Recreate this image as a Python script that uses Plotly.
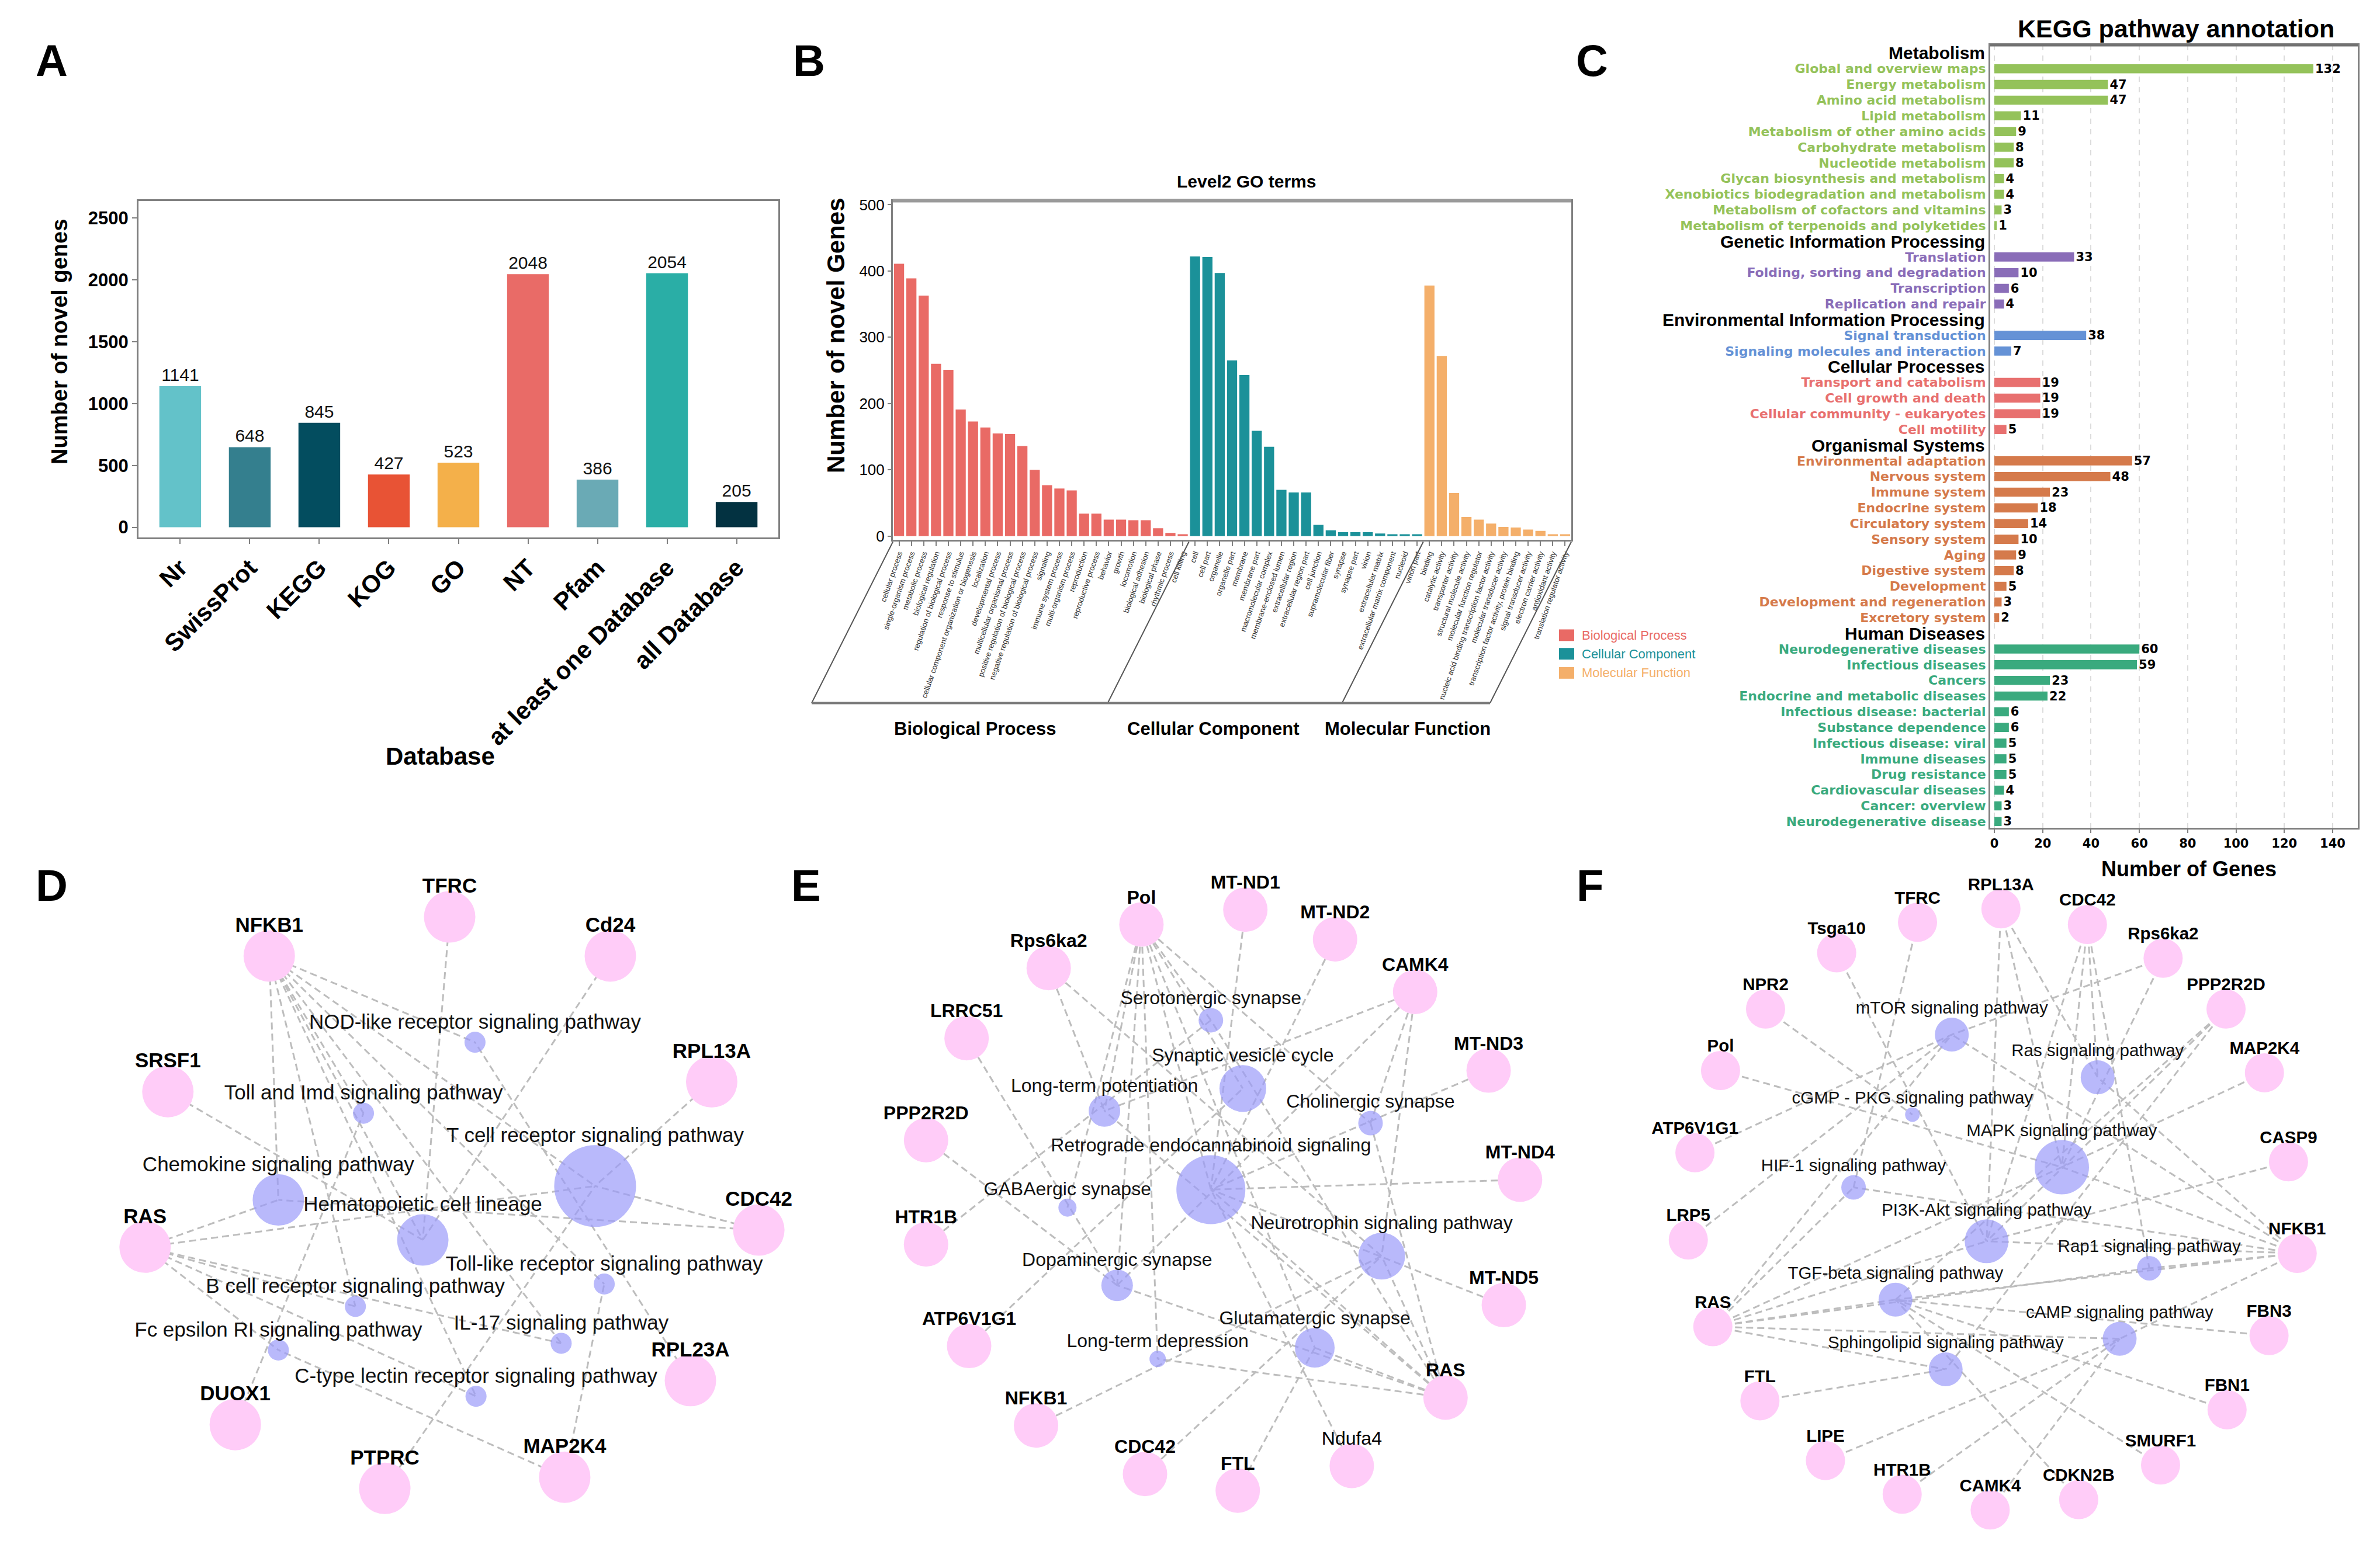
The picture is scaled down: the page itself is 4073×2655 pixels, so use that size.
import plotly.graph_objects as go

W, H = 4073, 2655
def px(x): return x / W
def py(y): return 1 - (0.993 * y - 4) / H
def rawpy(y): return 1 - y / H

ARIAL = "Liberation Sans, Arial, Helvetica, sans-serif"
WIDE = "DejaVu Sans, Verdana, sans-serif"

# ---------------- Panel A: novel genes annotated per database
db_names = ["Nr", "SwissProt", "KEGG", "KOG", "GO", "NT", "Pfam", "at least one Database", "all Database"]
db_values = [1141, 648, 845, 427, 523, 2048, 386, 2054, 205]
db_colors = ["#63C2C9", "#347F8E", "#034D5F", "#E85335", "#F4B04A", "#E96B67", "#6AAAB5", "#2AAEA6", "#033241"]
db_ticks = [0, 500, 1000, 1500, 2000, 2500]

# ---------------- Panel B: Level2 GO terms
bp_terms = ["cellular process", "single-organism process", "metabolic process", "biological regulation",
            "regulation of biological process", "response to stimulus",
            "cellular component organization or biogenesis", "localization", "developmental process",
            "multicellular organismal process", "positive regulation of biological process",
            "negative regulation of biological process", "signaling", "immune system process",
            "multi-organism process", "reproduction", "reproductive process", "behavior", "growth",
            "locomotion", "biological adhesion", "biological phase", "rhythmic process", "cell killing"]
bp_values = [411, 389, 363, 260, 251, 191, 173, 164, 155, 154, 136, 100, 77, 72, 69, 34, 34, 25, 25, 24, 24, 12, 5, 3]
cc_terms = ["cell", "cell part", "organelle", "organelle part", "membrane", "membrane part",
            "macromolecular complex", "membrane-enclosed lumen", "extracellular region",
            "extracellular region part", "cell junction", "supramolecular fiber", "synapse", "synapse part",
            "virion", "extracellular matrix", "extracellular matrix component", "nucleoid", "virion part"]
cc_values = [422, 421, 397, 265, 243, 159, 135, 70, 66, 66, 17, 9, 6, 6, 6, 4, 3, 3, 3]
mf_terms = ["binding", "catalytic activity", "transporter activity", "structural molecule activity",
            "molecular function regulator", "nucleic acid binding transcription factor activity",
            "molecular transducer activity", "transcription factor activity, protein binding",
            "signal transducer activity", "electron carrier activity", "antioxidant activity",
            "translation regulator activity"]
mf_values = [378, 272, 65, 29, 25, 19, 14, 13, 10, 8, 3, 3]
go_groups = ["Biological Process", "Cellular Component", "Molecular Function"]
go_colors = ["#E96A65", "#1B9199", "#F4AF6A"]
go_ticks = [0, 100, 200, 300, 400, 500]

# ---------------- Panel C: KEGG pathway annotation
kegg_groups = ["Metabolism", "Genetic Information Processing", "Environmental Information Processing",
               "Cellular Processes", "Organismal Systems", "Human Diseases"]
kegg_colors = ["#94C25A", "#8A6DB8", "#6592D6", "#E8706F", "#D57A4B", "#3AAA7E"]
metab_terms = ["Global and overview maps", "Energy metabolism", "Amino acid metabolism", "Lipid metabolism",
               "Metabolism of other amino acids", "Carbohydrate metabolism", "Nucleotide metabolism",
               "Glycan biosynthesis and metabolism", "Xenobiotics biodegradation and metabolism",
               "Metabolism of cofactors and vitamins", "Metabolism of terpenoids and polyketides"]
metab_values = [132, 47, 47, 11, 9, 8, 8, 4, 4, 3, 1]
genetic_terms = ["Translation", "Folding, sorting and degradation", "Transcription", "Replication and repair"]
genetic_values = [33, 10, 6, 4]
env_terms = ["Signal transduction", "Signaling molecules and interaction"]
env_values = [38, 7]
cellular_terms = ["Transport and catabolism", "Cell growth and death", "Cellular community - eukaryotes", "Cell motility"]
cellular_values = [19, 19, 19, 5]
organismal_terms = ["Environmental adaptation", "Nervous system", "Immune system", "Endocrine system",
                    "Circulatory system", "Sensory system", "Aging", "Digestive system", "Development",
                    "Development and regeneration", "Excretory system"]
organismal_values = [57, 48, 23, 18, 14, 10, 9, 8, 5, 3, 2]
disease_terms = ["Neurodegenerative diseases", "Infectious diseases", "Cancers", "Endocrine and metabolic diseases",
                 "Infectious disease: bacterial", "Substance dependence", "Infectious disease: viral",
                 "Immune diseases", "Drug resistance", "Cardiovascular diseases", "Cancer: overview",
                 "Neurodegenerative disease"]
disease_values = [60, 59, 23, 22, 6, 6, 5, 5, 5, 4, 3, 3]
kegg_ticks = [0, 20, 40, 60, 80, 100, 120, 140]

# ---------------- Panels D/E/F: gene-pathway networks (layout)
d_genes = ["NFKB1", "TFRC", "Cd24", "SRSF1", "RPL13A", "RAS", "CDC42", "RPL23A", "DUOX1", "PTPRC", "MAP2K4"]
d_gene_x = [522, 878, 1195, 322, 1395, 277, 1488, 1353, 455, 750, 1105]
d_gene_y = [245, 158, 245, 547, 525, 893, 855, 1190, 1288, 1430, 1405]
d_paths = ["NOD-like receptor signaling pathway", "Toll and Imd signaling pathway",
           "T cell receptor signaling pathway", "Chemokine signaling pathway", "Hematopoietic cell lineage",
           "Toll-like receptor signaling pathway", "B cell receptor signaling pathway", "IL-17 signaling pathway",
           "Fc epsilon RI signaling pathway", "C-type lectin receptor signaling pathway"]
d_path_x = [928, 708, 1165, 540, 825, 1183, 692, 1098, 540, 930]
d_path_y = [437, 595, 757, 788, 877, 975, 1025, 1107, 1122, 1225]
d_path_weight = [36, 36, 140, 88, 88, 36, 36, 36, 36, 36]
d_edges = [("NFKB1", 0), ("NFKB1", 1), ("NFKB1", 2), ("NFKB1", 3), ("NFKB1", 4), ("NFKB1", 5),
           ("NFKB1", 6), ("NFKB1", 7), ("NFKB1", 9), ("TFRC", 4), ("Cd24", 4), ("SRSF1", 4),
           ("RPL13A", 2), ("RAS", 3), ("RAS", 2), ("RAS", 6), ("RAS", 8), ("RAS", 7), ("RAS", 9),
           ("CDC42", 2), ("CDC42", 3), ("RPL23A", 0), ("DUOX1", 1), ("PTPRC", 2), ("MAP2K4", 5), ("MAP2K4", 8)]

e_genes = ["Pol", "MT-ND1", "MT-ND2", "Rps6ka2", "CAMK4", "LRRC51", "MT-ND3", "PPP2R2D", "MT-ND4", "HTR1B",
           "MT-ND5", "ATP6V1G1", "RAS", "NFKB1", "Ndufa4", "CDC42", "FTL"]
e_gene_x = [698, 903, 1080, 515, 1238, 353, 1383, 273, 1445, 273, 1413, 358, 1298, 490, 1113, 705, 888]
e_gene_y = [175, 142, 208, 272, 325, 428, 500, 655, 743, 887, 1022, 1113, 1228, 1290, 1380, 1398, 1435]
e_paths = ["Serotonergic synapse", "Synaptic vesicle cycle", "Long-term potentiation", "Cholinergic synapse",
           "Retrograde endocannabinoid signaling", "GABAergic synapse", "Neurotrophin signaling pathway",
           "Dopaminergic synapse", "Glutamatergic synapse", "Long-term depression"]
e_path_x = [835, 898, 625, 1150, 835, 552, 1172, 650, 1040, 730]
e_path_y = [388, 540, 590, 617, 765, 805, 913, 978, 1117, 1142]
e_path_weight = [42, 80, 54, 42, 118, 31, 80, 54, 68, 28]
e_edges = [("Pol", 0), ("Pol", 1), ("Pol", 2), ("Pol", 4), ("Pol", 5), ("Pol", 7), ("Pol", 9), ("Pol", 3), ("Pol", 8),
           ("MT-ND1", 4), ("MT-ND2", 4), ("MT-ND3", 4), ("MT-ND4", 4), ("MT-ND5", 4), ("Ndufa4", 4),
           ("Rps6ka2", 2), ("Rps6ka2", 6), ("CAMK4", 2), ("CAMK4", 3), ("CAMK4", 6), ("CAMK4", 7),
           ("LRRC51", 7), ("PPP2R2D", 7), ("HTR1B", 0), ("ATP6V1G1", 1), ("NFKB1", 6), ("CDC42", 6),
           ("FTL", 8), ("RAS", 6), ("RAS", 8), ("RAS", 9), ("RAS", 2), ("RAS", 3), ("RAS", 4), ("RAS", 0), ("RAS", 7)]

f_genes = ["RPL13A", "TFRC", "CDC42", "Tsga10", "Rps6ka2", "NPR2", "PPP2R2D", "Pol", "MAP2K4", "ATP6V1G1",
           "CASP9", "LRP5", "NFKB1", "RAS", "FBN3", "FTL", "FBN1", "LIPE", "SMURF1", "HTR1B", "CDKN2B", "CAMK4"]
f_gene_x = [818, 655, 987, 497, 1135, 358, 1258, 270, 1333, 220, 1380, 207, 1397, 255, 1342, 347, 1260, 475, 1130, 625, 970, 797]
f_gene_y = [140, 170, 175, 238, 250, 363, 363, 500, 505, 683, 703, 877, 907, 1070, 1090, 1235, 1255, 1368, 1378, 1443, 1455, 1478]
f_paths = ["mTOR signaling pathway", "Ras signaling pathway", "cGMP - PKG signaling pathway", "MAPK signaling pathway",
           "HIF-1 signaling pathway", "PI3K-Akt signaling pathway", "Rap1 signaling pathway",
           "TGF-beta signaling pathway", "cAMP signaling pathway", "Sphingolipid signaling pathway"]
f_path_x = [722, 1007, 645, 937, 530, 790, 1108, 612, 1050, 710]
f_path_y = [420, 515, 598, 715, 760, 880, 940, 1010, 1097, 1165]
f_path_weight = [58, 58, 25, 93, 42, 75, 42, 58, 58, 58]
f_edges = [("RPL13A", 5), ("RPL13A", 3), ("RPL13A", 1), ("TFRC", 4), ("CDC42", 1), ("CDC42", 3), ("CDC42", 6),
           ("CDC42", 5), ("Tsga10", 5), ("Rps6ka2", 0), ("Rps6ka2", 3), ("NPR2", 2), ("PPP2R2D", 5),
           ("PPP2R2D", 9), ("PPP2R2D", 7), ("Pol", 3), ("MAP2K4", 3), ("ATP6V1G1", 0), ("CASP9", 5), ("LRP5", 0),
           ("NFKB1", 0), ("NFKB1", 3), ("NFKB1", 1), ("NFKB1", 5), ("NFKB1", 8), ("NFKB1", 4), ("NFKB1", 7),
           ("NFKB1", 6), ("RAS", 0), ("RAS", 4), ("RAS", 5), ("RAS", 7), ("RAS", 9), ("RAS", 8), ("RAS", 3),
           ("RAS", 6), ("FBN3", 7), ("FTL", 9), ("FBN1", 7), ("LIPE", 8), ("SMURF1", 7), ("HTR1B", 8),
           ("CDKN2B", 7), ("CAMK4", 8)]

fig = go.Figure()
annotations = []
shapes = []

# ================= Panel A =================
fig.add_trace(go.Bar(
    x=db_names, y=db_values, marker=dict(color=db_colors, line=dict(width=0)), width=0.6,
    text=[str(v) for v in db_values], textposition="outside", cliponaxis=False,
    textfont=dict(family=ARIAL, size=30, color="#111"), xaxis="x", yaxis="y", showlegend=False))

# ================= Panel B =================
go_terms = bp_terms + cc_terms + mf_terms
go_pos = list(range(len(go_terms)))
start = 0
for grp, terms, vals, col in zip(go_groups, [bp_terms, cc_terms, mf_terms], [bp_values, cc_values, mf_values], go_colors):
    fig.add_trace(go.Bar(x=go_pos[start:start + len(terms)], y=vals, marker=dict(color=col, line=dict(width=0)),
                         width=0.82, xaxis="x2", yaxis="y2", showlegend=False, name=grp))
    start += len(terms)

# ================= Panel C =================
kegg_sets = [(metab_terms, metab_values), (genetic_terms, genetic_values), (env_terms, env_values),
             (cellular_terms, cellular_values), (organismal_terms, organismal_values), (disease_terms, disease_values)]
slot = 0
c_tickvals, c_ticktext = [], []
for grp, (terms, vals), col in zip(kegg_groups, kegg_sets, kegg_colors):
    annotations.append(dict(text=grp, xref="paper", yref="y3", x=px(3391), y=slot, xanchor="right",
                            yanchor="middle", showarrow=False,
                            font=dict(family=ARIAL, size=30, color="black", weight="bold")))
    ys = list(range(slot + 1, slot + 1 + len(terms)))
    slot += 1 + len(terms)
    c_tickvals += ys
    c_ticktext += ['<span style="color:%s">%s</span>' % (col, t) for t in terms]
    fig.add_trace(go.Bar(x=vals, y=ys, orientation="h", marker=dict(color=col, line=dict(width=0)), width=0.58,
                         text=[str(v) for v in vals], textposition="outside", cliponaxis=False,
                         constraintext="none",
                         textfont=dict(family=WIDE, size=21, color="black", weight="bold"),
                         xaxis="x3", yaxis="y3", showlegend=False))

# ================= Networks =================
def add_network(xa, ya, genes, gx, gy, paths, pxs, pys, pw, edges, gene_px, font_size):
    yscale = 1568 / 1205.0
    ex, ey = [], []
    for g, p in edges:
        i = genes.index(g)
        ex += [gx[i], pxs[p], None]
        ey += [gy[i], pys[p], None]
    fig.add_trace(go.Scatter(x=ex, y=ey, mode="lines", line=dict(color="#BDBDBD", width=3, dash="12px,7px"),
                             hoverinfo="skip", xaxis=xa, yaxis=ya, showlegend=False))
    fig.add_trace(go.Scatter(x=gx, y=gy, mode="markers", marker=dict(size=gene_px, color="#FFCCF8", line=dict(width=0)),
                             xaxis=xa, yaxis=ya, showlegend=False))
    fig.add_trace(go.Scatter(x=pxs, y=pys, mode="markers", marker=dict(size=pw, color="#9B9BFA", line=dict(width=0)),
                             xaxis=xa, yaxis=ya, showlegend=False))
    gtext = [("<b>%s</b>" % g) if g != "Ndufa4" else g for g in genes]
    fig.add_trace(go.Scatter(x=gx, y=[y - (gene_px / 2 + 6) * yscale for y in gy], mode="text", text=gtext,
                             textposition="middle center", cliponaxis=False,
                             textfont=dict(family=ARIAL, size=font_size, color="black"),
                             xaxis=xa, yaxis=ya, showlegend=False))
    fig.add_trace(go.Scatter(x=pxs, y=[y - (w / 2 + 14) * yscale for y, w in zip(pys, pw)], mode="text", text=paths,
                             textposition="middle center", cliponaxis=False,
                             textfont=dict(family=ARIAL, size=font_size, color="#111"),
                             xaxis=xa, yaxis=ya, showlegend=False))

add_network("x4", "y4", d_genes, d_gene_x, d_gene_y, d_paths, d_path_x, d_path_y, d_path_weight, d_edges, 88, 35)
add_network("x5", "y5", e_genes, e_gene_x, e_gene_y, e_paths, e_path_x, e_path_y, e_path_weight, e_edges, 76, 32)
add_network("x6", "y6", f_genes, f_gene_x, f_gene_y, f_paths, f_path_x, f_path_y, f_path_weight, f_edges, 67, 29.5)

# ================= Layout =================
frame = dict(showline=True, mirror=True, linecolor="#808080", linewidth=3, showgrid=False, zeroline=False)
net_x = dict(visible=False, range=[0, 1568], fixedrange=True)
net_y = dict(visible=False, range=[1568, 0], fixedrange=True)
NET_TOP, NET_BOT = 1440, 2645

layout = dict(
    width=W, height=H, margin=dict(l=0, r=0, t=0, b=0), paper_bgcolor="white", plot_bgcolor="rgba(0,0,0,0)",
    font=dict(family=ARIAL, color="black"), barmode="overlay",
    xaxis=dict(domain=[px(229), px(1324)], anchor="y", type="category", range=[-0.6, 8.6], tickangle=-45,
               tickfont=dict(family=ARIAL, size=42, weight="bold"), ticks="outside", ticklen=8, tickwidth=2,
               tickcolor="#808080", automargin=False, **frame),
    yaxis=dict(domain=[py(922), py(342)], anchor="x", range=[-80, 2641], tickvals=db_ticks,
               tickfont=dict(family=ARIAL, size=31, weight="bold"), ticks="outside", ticklen=8, tickwidth=2,
               tickcolor="#808080", automargin=False, **frame),
    xaxis2=dict(domain=[px(1520), px(2681)], anchor="y2", range=[-0.5, len(go_terms) - 0.5], tickmode="array",
                tickvals=go_pos, ticktext=go_terms, tickangle=-71,
                tickfont=dict(family=ARIAL, size=13, color="#333"), ticks="outside", ticklen=8, tickwidth=1.5,
                tickcolor="#808080", automargin=False, **frame),
    yaxis2=dict(domain=[py(926), py(342)], anchor="x2", range=[-5, 506], tickvals=go_ticks,
                tickfont=dict(family=ARIAL, size=26), ticks="outside", ticklen=6, tickwidth=2,
                tickcolor="#808080", automargin=False, **frame),
    xaxis3=dict(domain=[px(3398), px(4027)], anchor="y3", range=[-1.7, 150.4], tickvals=kegg_ticks,
                tickfont=dict(family=WIDE, size=21, weight="bold"), ticks="outside", ticklen=6, tickwidth=2,
                tickcolor="#808080", showline=True, mirror=True, linecolor="#808080", linewidth=3,
                showgrid=True, gridcolor="#DCDCDC", gridwidth=2, griddash="dash", zeroline=False, automargin=False),
    yaxis3=dict(domain=[py(1423), py(74)], anchor="x3", range=[49.4, -0.5], tickmode="array",
                tickvals=c_tickvals, ticktext=c_ticktext, ticks="", showgrid=False, zeroline=False,
                tickfont=dict(family=WIDE, size=22, weight="bold"), showline=True, mirror=True,
                linecolor="#808080", linewidth=3, automargin=False),
    xaxis4=dict(domain=[0, px(1360)], anchor="y4", **net_x),
    yaxis4=dict(domain=[rawpy(2646), rawpy(1440)], anchor="x4", **net_y),
    xaxis5=dict(domain=[px(1340), px(2700)], anchor="y5", **net_x),
    yaxis5=dict(domain=[rawpy(2646), rawpy(1440)], anchor="x5", **net_y),
    xaxis6=dict(domain=[px(2700), px(4073)], anchor="y6", **net_x),
    yaxis6=dict(domain=[rawpy(2646), rawpy(1440)], anchor="x6", **net_y),
)

def txt(s, x, y, size, bold=True, color="black", xanchor="center", angle=0, family=ARIAL):
    annotations.append(dict(text=s, xref="paper", yref="paper", x=px(x), y=py(y), xanchor=xanchor,
                            yanchor="middle", showarrow=False, textangle=angle,
                            font=dict(family=family, size=size, color=color, weight="bold" if bold else "normal")))

# panel letters
for letter, lx, ly in [("A", 80, 100), ("B", 1376, 100), ("C", 2716, 100),
                       ("D", 80, 1522), ("E", 1371, 1522), ("F", 2713, 1522)]:
    txt(letter, lx, ly, 76)

# Panel A titles
txt("Number of novel genes", 94, 585, 38, angle=-90)
txt("Database", 745, 1300, 42)

# Panel B titles, frame, legend
txt("Level2 GO terms", 2125, 309, 30)
txt("Number of novel Genes", 1423, 575, 42, angle=-90)
for lab, cx in zip(go_groups, [1660, 2068, 2401]):
    txt(lab, cx, 1252, 31)
slant = 139
bounds = [1520, 1520 + 24 / 55 * 1161, 1520 + 43 / 55 * 1161, 2681]
for bx in bounds:
    shapes.append(dict(type="line", xref="paper", yref="paper", x0=px(bx), y0=py(930), x1=px(bx - slant),
                       y1=py(1208), line=dict(color="#555555", width=2)))
shapes.append(dict(type="line", xref="paper", yref="paper", x0=px(bounds[0] - slant), y0=py(1208),
                   x1=px(bounds[-1] - slant), y1=py(1208), line=dict(color="#7A7A7A", width=4)))
shapes.append(dict(type="line", xref="paper", yref="paper", x0=px(1520), y0=py(342), x1=px(2681), y1=py(342),
                   line=dict(color="#9A9A9A", width=6)))
for lab, col, ly in zip(go_groups, go_colors, [1091, 1123, 1156]):
    shapes.append(dict(type="rect", xref="paper", yref="paper", x0=px(2660), x1=px(2686), y0=py(ly + 10),
                       y1=py(ly - 10), fillcolor=col, line=dict(width=0)))
    txt(lab, 2697, ly, 22, bold=False, color=col, xanchor="left")

# Panel C titles
txt("KEGG pathway annotation", 3716, 45, 43)
txt("Number of Genes", 3738, 1494, 36)
shapes.append(dict(type="line", xref="paper", yref="paper", x0=px(3398), y0=py(74), x1=px(4027), y1=py(74),
                   line=dict(color="#707070", width=4)))

layout["annotations"] = annotations
layout["shapes"] = shapes
fig.update_layout(**layout)
fig.write_html("out.html")
